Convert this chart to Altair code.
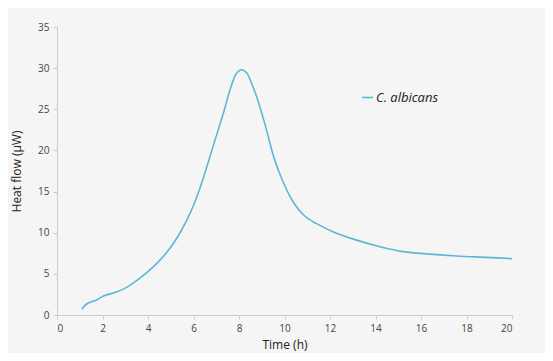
import altair as alt
import pandas as pd

time_h = [1.09, 1.3, 1.74, 2.04, 2.62, 3.06, 3.5, 4.01, 4.4, 4.82, 5.26, 5.7, 6.07, 6.45, 6.85,
          7.31, 7.68, 7.9, 8.12, 8.34, 8.56, 8.78, 9.14, 9.55, 9.95, 10.39, 10.9, 11.41,
          12.15, 13.17, 14.2, 15.22, 16.4, 17.57, 18.9, 20.0]
heat_flow = [0.7, 1.34, 1.82, 2.3, 2.8, 3.36, 4.17, 5.3, 6.3, 7.6, 9.3, 11.5, 13.8, 16.8, 20.4,
             24.5, 28.0, 29.4, 29.8, 29.4, 28.1, 26.5, 23.2, 19.0, 16.1, 13.7, 12.0, 11.1,
             10.1, 9.1, 8.3, 7.7, 7.4, 7.17, 7.0, 6.85]
series = "C. albicans"

df = pd.DataFrame({"t": time_h, "v": heat_flow, "s": [series] * len(time_h)})

font = "Open Sans"

chart = alt.Chart(df).mark_line(strokeWidth=1.6, interpolate="catmull-rom").encode(
    x=alt.X("t:Q", title="Time (h)",
            scale=alt.Scale(domain=[0, 20], nice=False),
            axis=alt.Axis(values=list(range(0, 21, 2)), grid=False, tickSize=4,
                          labelPadding=4, titlePadding=6)),
    y=alt.Y("v:Q", title="Heat flow (µW)",
            scale=alt.Scale(domain=[0, 35], nice=False),
            axis=alt.Axis(values=list(range(0, 36, 5)), grid=False, tickSize=4,
                          labelPadding=4, titlePadding=14)),
    color=alt.Color("s:N", scale=alt.Scale(range=["#5bb8d4"]),
                    legend=alt.Legend(title=None, orient="none", legendX=304, legendY=64,
                                      symbolType="stroke", symbolSize=120, symbolStrokeWidth=1.6,
                                      labelFontStyle="italic", labelFontSize=13,
                                      labelColor="#222", labelFont=font, labelOffset=2)),
).properties(
    width=455, height=288, background="#f5f5f5",
    autosize=alt.AutoSizeParams(type="none"),
    padding={"left": 49, "top": 19, "right": 33, "bottom": 38},
).configure_axis(
    domainColor="#cccccc", tickColor="#cccccc", labelColor="#444",
    labelFont=font, titleFont=font, labelFontSize=10, titleFontSize=12,
    titleColor="#222", titleFontWeight="normal",
).configure_view(stroke=None)

chart.save("out.html", embed_options={"renderer": "svg", "actions": False})
